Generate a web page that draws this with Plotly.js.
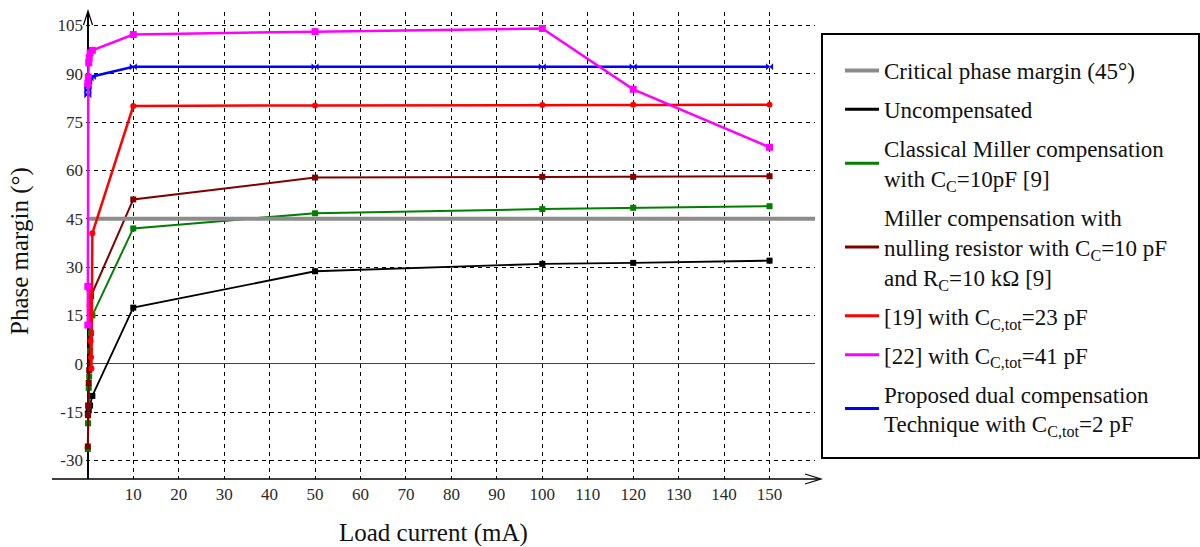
<!DOCTYPE html>
<html>
<head>
<meta charset="utf-8">
<script src="https://cdn.plot.ly/plotly-3.0.1.min.js"></script>
<style>
  html, body { margin: 0; padding: 0; background: #fff; }
  #chart { width: 1200px; height: 547px; }
</style>
</head>
<body>
<div id="chart"></div>
<script>
// ---- Data ----
const seriesNames = [
  "Critical phase margin (45°)",
  "Uncompensated",
  "Classical Miller compensation<br>with C<sub>C</sub>=10pF [9]",
  "Miller compensation with<br>nulling resistor with C<sub>C</sub>=10 pF<br>and R<sub>C</sub>=10 kΩ [9]",
  "[19] with C<sub>C,tot</sub>=23 pF",
  "[22] with C<sub>C,tot</sub>=41 pF",
  "Proposed dual compensation<br>Technique with C<sub>C,tot</sub>=2 pF"
];
const seriesColors = ["#8c8c8c", "#000000", "#008000", "#800000", "#ff0000", "#ff00ff", "#0000ff"];

const criticalX = [0, 160];
const criticalY = [45, 45];

const uncompX = [0, 0.2, 0.5, 1, 10, 50, 100, 120, 150];
const uncompY = [-15.5, -14.5, -13, -10, 17.4, 28.7, 31.0, 31.3, 32.0];

const millerX = [0, 0.05, 0.1, 0.2, 0.3, 0.5, 0.7, 1, 10, 50, 100, 120, 150];
const millerY = [-26.5, -18.5, -13, -7.5, -4, 4, 9.5, 15, 42, 46.7, 48, 48.4, 48.9];

const nullingX = [0, 0.05, 0.1, 0.2, 0.3, 0.5, 0.7, 10, 50, 100, 120, 150];
const nullingY = [-25.7, -16, -13, -6, -2, 7.5, 21, 51, 57.8, 58, 58, 58.2];

const ref19X = [0.3, 0.4, 0.5, 0.6, 0.7, 0.8, 1, 10, 50, 100, 120, 150];
const ref19Y = [23, 18, 12, 7, 2, -1.5, 40.5, 80, 80.2, 80.3, 80.4, 80.4];

const ref22X = [0, 0, 0, 0.1, 0.2, 0.3, 0.5, 1, 10, 50, 100, 120, 150];
const ref22Y = [12, 24, 87, 89, 93.4, 95, 96.5, 97.3, 102.2, 103.1, 104.1, 85.2, 67.2];

const proposedX = [0, 0, 0.05, 0.2, 0.5, 1, 10, 50, 100, 120, 150];
const proposedY = [83.5, 85, 86.2, 87.7, 88.7, 89.2, 92.2, 92.2, 92.2, 92.2, 92.2];

const xTicks = [10, 20, 30, 40, 50, 60, 70, 80, 90, 100, 110, 120, 130, 140, 150];
const yTicks = [-30, -15, 0, 15, 30, 45, 60, 75, 90, 105];

// ---- Layout geometry ----
const W = 1200, H = 547;
const L = 86, R = 815, T = 12, B = 479;
const px = p => (p - L) / (R - L);
const py = p => (B - p) / (B - T);

const serif = "Liberation Serif, Times New Roman, serif";

// data traces (legend hidden; legend drawn with plain line entries below)
function tr(x, y, idx, width, symbol, msize) {
  const c = seriesColors[idx];
  return {
    x: x, y: y, name: seriesNames[idx], type: "scatter",
    mode: msize > 0 ? "lines+markers" : "lines",
    line: { color: c, width: width },
    marker: { symbol: symbol, size: msize > 0 ? msize : 6, color: c },
    cliponaxis: false,
    showlegend: false,
    legendgroup: "g" + idx
  };
}
// legend entries: line-only samples, same names and colours
function legendEntry(idx, width) {
  return {
    x: [null], y: [null], name: seriesNames[idx], type: "scatter", mode: "lines",
    line: { color: seriesColors[idx], width: width },
    showlegend: true, legendrank: idx + 1, legendgroup: "g" + idx
  };
}

const traces = [
  tr(uncompX, uncompY, 1, 1.8, "square", 6),
  tr(millerX, millerY, 2, 2, "square", 6),
  tr(nullingX, nullingY, 3, 2, "square", 6),
  tr(criticalX, criticalY, 0, 4, "circle", 0),
  tr(ref19X, ref19Y, 4, 2.5, "circle", 6),
  tr(proposedX, proposedY, 6, 2.5, "bowtie", 7),
  tr(ref22X, ref22Y, 5, 2.5, "square", 7),
  legendEntry(0, 4), legendEntry(1, 3), legendEntry(2, 3), legendEntry(3, 3),
  legendEntry(4, 3), legendEntry(5, 3), legendEntry(6, 3)
];

const arrowY = `M ${px(83.5)} ${py(25)} L ${px(88)} ${py(11)} L ${px(92.5)} ${py(25)}`;
const arrowX = `M ${px(805)} ${py(474)} L ${px(821)} ${py(479)} L ${px(805)} ${py(484)}`;

const layout = {
  width: W, height: H,
  margin: { l: L, r: W - R, t: T, b: H - B, pad: 0 },
  paper_bgcolor: "#ffffff",
  plot_bgcolor: "#ffffff",
  showlegend: true,
  font: { family: serif, color: "#222" },
  xaxis: {
    range: [-0.4, 160],
    tickvals: xTicks,
    ticktext: xTicks.map(String),
    showgrid: true, gridcolor: "#000", gridwidth: 1, griddash: "4px,4px",
    zeroline: true, zerolinecolor: "#000", zerolinewidth: 1.5,
    showline: false, ticks: "",
    tickfont: { family: serif, size: 17, color: "#2a2a2a" },
    ticklabelstandoff: 3,
    fixedrange: true
  },
  yaxis: {
    range: [-35.8, 109.2],
    tickvals: yTicks,
    ticktext: yTicks.map(String),
    showgrid: true, gridcolor: "#000", gridwidth: 1, griddash: "4px,4px",
    zeroline: true, zerolinecolor: "#444", zerolinewidth: 1.2,
    showline: false, ticks: "",
    tickfont: { family: serif, size: 17, color: "#2a2a2a" },
    ticklabelstandoff: 2,
    fixedrange: true
  },
  legend: {
    x: px(840), y: py(49), xanchor: "left", yanchor: "top",
    bgcolor: "rgba(0,0,0,0)", borderwidth: 0,
    font: { family: serif, size: 23, color: "#111" },
    traceorder: "grouped",
    tracegroupgap: 6,
    itemwidth: 34
  },
  shapes: [
    { type: "rect", xref: "paper", yref: "paper",
      x0: px(822), x1: px(1199), y0: py(34), y1: py(458),
      line: { color: "#000", width: 2 }, fillcolor: "rgba(0,0,0,0)" },
    { type: "line", xref: "paper", yref: "paper",
      x0: px(52), x1: px(820), y0: 0, y1: 0,
      line: { color: "#000", width: 1.5 } },
    { type: "path", xref: "paper", yref: "paper", path: arrowY,
      line: { color: "#000", width: 1.2 } },
    { type: "path", xref: "paper", yref: "paper", path: arrowX,
      line: { color: "#000", width: 1.2 } }
  ],
  annotations: [
    { text: "Load current (mA)", xref: "paper", yref: "paper",
      x: px(433), y: py(533), xanchor: "center", yanchor: "middle",
      showarrow: false, font: { family: serif, size: 25, color: "#111" } },
    { text: "Phase margin (°)", xref: "paper", yref: "paper",
      x: px(20), y: py(251), xanchor: "center", yanchor: "middle",
      textangle: -90, showarrow: false,
      font: { family: serif, size: 25, color: "#111" } }
  ]
};

Plotly.newPlot("chart", traces, layout, { staticPlot: true, displayModeBar: false });
</script>
</body>
</html>
